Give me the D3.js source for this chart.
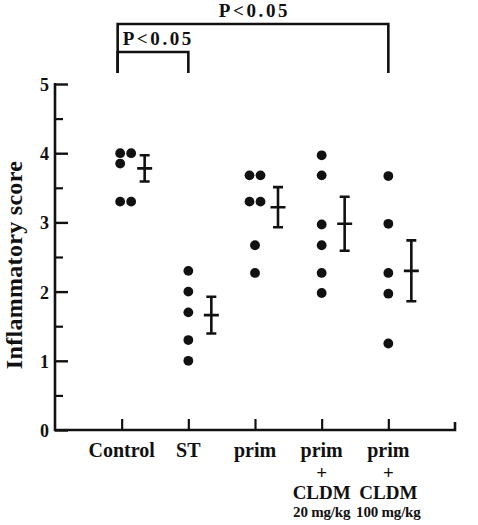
<!DOCTYPE html>
<html><head><meta charset="utf-8">
<script src="https://cdn.jsdelivr.net/npm/d3@7"></script>
<style>
html,body{margin:0;padding:0;background:#fff;}
svg{display:block;}
text{font-family:"Liberation Serif","DejaVu Serif",serif;font-weight:bold;fill:#111;}
</style></head>
<body>
<svg id="chart" width="478" height="525"></svg>
<script>
// ---- data ----
const categories = ["Control", "ST", "prim", "prim+CLDM 20mg/kg", "prim+CLDM 100mg/kg"];
const labelLines = [["Control"], ["ST"], ["prim"], ["prim", "+", "CLDM", "20 mg/kg"], ["prim", "+", "CLDM", "100 mg/kg"]];
const controlScores = [4.0, 4.0, 3.85, 3.3, 3.3];
const stScores = [2.3, 2.0, 1.7, 1.3, 1.0];
const primScores = [3.68, 3.68, 3.3, 3.3, 2.67, 2.27];
const prim20Scores = [3.97, 3.68, 2.97, 2.67, 2.27, 1.98];
const prim100Scores = [3.67, 2.98, 2.27, 1.97, 1.25];
const groupMeans = [3.78, 1.66, 3.22, 2.98, 2.30];
const groupSE = [0.19, 0.265, 0.29, 0.39, 0.44];
const yTicks = [0, 1, 2, 3, 4, 5];
const yMinorTicks = [0.5, 1.5, 2.5, 3.5, 4.5];
const comparisons = [{from: 0, to: 4, label: "P<0.05"}, {from: 0, to: 1, label: "P<0.05"}];

const groups = [controlScores, stScores, primScores, prim20Scores, prim100Scores];

// ---- layout ----
const svg = d3.select("#chart");
const x = d3.scaleLinear().domain([-1, 5]).range([55, 455]);
const y = d3.scaleLinear().domain([0, 5]).range([430, 84]);
const ink = "#111";
const r = 4.9;

// y axis
const yAxis = svg.append("g").attr("transform", `translate(${x(-1)},0)`)
  .call(d3.axisLeft(y).tickValues(yTicks).tickSize(-13).tickPadding(6).tickFormat(d3.format("d")));
yAxis.select(".domain").remove();
yAxis.selectAll(".tick line").attr("stroke", ink).attr("stroke-width", 2.4);
yAxis.selectAll(".tick text").style("font-size", "18px").attr("fill", ink).attr("dy", "0.36em");
svg.append("g").attr("transform", `translate(${x(-1)},0)`)
  .call(d3.axisLeft(y).tickValues(yMinorTicks).tickSize(-8).tickFormat(""))
  .call(g => g.select(".domain").remove())
  .selectAll(".tick line").attr("stroke", ink).attr("stroke-width", 2.2);
svg.append("line").attr("x1", x(-1)).attr("x2", x(-1)).attr("y1", y(5) - 1).attr("y2", y(0) + 1.2)
  .attr("stroke", ink).attr("stroke-width", 2.6);

// x axis
const xAxis = svg.append("g").attr("transform", `translate(0,${y(0)})`)
  .call(d3.axisBottom(x).tickValues(d3.range(categories.length)).tickSize(-11).tickFormat(""));
xAxis.select(".domain").remove();
xAxis.selectAll(".tick line").attr("stroke", ink).attr("stroke-width", 2.2);
svg.append("path")
  .attr("d", `M${x(-1)},${y(0)}H${x(5)}V${y(0) - 8}`)
  .attr("fill", "none").attr("stroke", ink).attr("stroke-width", 2.6);

// x labels
const lineY = [457, 478.5, 498.5, 516.5];
const lineSize = ["20px", "19px", "19px", "15px"];
const lineWeight = ["bold", "bold", "bold", "bold"];
labelLines.forEach((lines, i) => {
  lines.forEach((t, j) => {
    svg.append("text").attr("x", x(i)).attr("y", lineY[j])
      .attr("text-anchor", "middle")
      .style("font-size", lineSize[j])
      .style("font-weight", lineWeight[j])
      .style("letter-spacing", j === 3 ? "-0.2px" : "0px")
      .text(t);
  });
});

// y label
svg.append("text")
  .attr("transform", `translate(22,${(y(0) + y(5)) / 2 + 8}) rotate(-90)`)
  .attr("text-anchor", "middle")
  .style("font-size", "24px")
  .style("letter-spacing", "0.3px")
  .text("Inflammatory score");

// dots with simple jitter for duplicated values
groups.forEach((vals, i) => {
  const pts = vals.map(v => ({v, dx: 0}));
  const counts = d3.rollup(vals, a => a.length, d => d);
  const seen = new Map();
  pts.forEach(p => {
    if (counts.get(p.v) > 1) {
      const k = seen.get(p.v) || 0; seen.set(p.v, k + 1);
      p.dx = k === 0 ? -5.5 : 5.5; p.pair = true;
    }
  });
  pts.forEach(p => {
    if (!p.pair) {
      const near = pts.some(q => q.pair && Math.abs(y(q.v) - y(p.v)) < 2 * r + 1);
      if (near) p.dx = -5.5;
    }
  });
  svg.append("g").selectAll("circle").data(pts).join("circle")
    .attr("cx", p => x(i) + p.dx + (i === 0 ? 4 : 0))
    .attr("cy", p => y(p.v)).attr("r", r).attr("fill", ink);
});

// mean +/- SE bars
const bars = svg.append("g").attr("stroke", ink).attr("stroke-width", 2.6).attr("fill", "none");
groupMeans.forEach((m, i) => {
  const cx = x(i) + 23;
  const t = y(m + groupSE[i]), b = y(m - groupSE[i]), my = y(m);
  bars.append("path").attr("d",
    `M${cx},${t}V${b}M${cx - 5},${t}H${cx + 5}M${cx - 5},${b}H${cx + 5}M${cx - 7.5},${my}H${cx + 7.5}`);
});

// significance brackets
const bracketTop = [24, 52];
const bracketLabelY = [17, 45];
comparisons.forEach((c, k) => {
  const x1 = x(c.from) - 4, x2 = x(c.to);
  svg.append("path").attr("d", `M${x1},73V${bracketTop[k]}H${x2}V73`)
    .attr("fill", "none").attr("stroke", ink).attr("stroke-width", 2.6);
  const tx = k === 0 ? (x1 + x2) / 2 + 1.5 : x1 + 5;
  svg.append("text").attr("x", tx).attr("y", bracketLabelY[k])
    .attr("text-anchor", k === 0 ? "middle" : "start")
    .style("font-size", "19px").style("letter-spacing", "2.6px")
    .text(c.label);
});
</script>
</body></html>
